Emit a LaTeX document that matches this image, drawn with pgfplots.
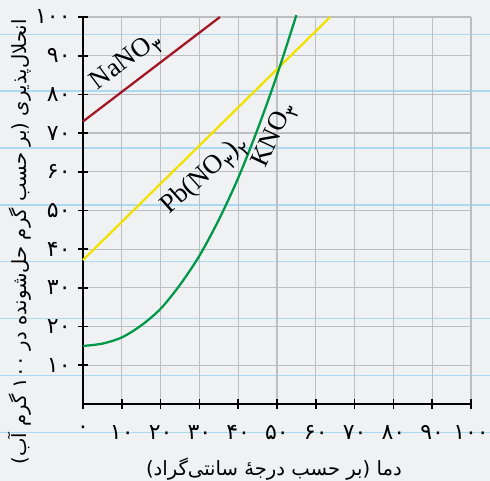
\documentclass[border=0pt]{standalone}
\usepackage{fontspec}
\setmainfont{Liberation Serif}
\newfontfamily\arabicfont[Script=Arabic]{DejaVu Sans}
\TeXXeTstate=1
\usepackage{pgfplots}
\pgfplotsset{compat=1.18}

\definecolor{bg}{RGB}{240,241,243}
\definecolor{ruled}{RGB}{170,218,242}
\definecolor{gridc}{RGB}{188,190,193}
\definecolor{nared}{RGB}{163,22,38}
\definecolor{pbyel}{RGB}{240,226,0}
\definecolor{kgreen}{RGB}{0,152,72}

\newcommand\sub[1]{\raisebox{-0.3em}{\arabicfont\fontsize{14}{14}\selectfont #1}}

\begin{document}
\begin{tikzpicture}
% page background and ruled lines
\fill[bg] (-62.25pt,-57.75pt) rectangle (305.25pt,303pt);
\useasboundingbox (-62.25pt,-57.75pt) rectangle (305.25pt,303pt);
\foreach \k in {0,...,7}{
  \pgfmathsetmacro\yy{277.275-42.645*\k}
  \draw[ruled, line width=1.1pt] (-62.25pt,\yy pt) -- (305.25pt,\yy pt);
}
\begin{axis}[
  at={(0,0)}, anchor=south west,
  scale only axis, width=291pt, height=290.25pt,
  xmin=0, xmax=100, ymin=0, ymax=100,
  axis lines=left,
  axis line style={-, line width=1.8pt, black},
  xtick={0,10,...,100},
  xticklabels={۰,۱۰,۲۰,۳۰,۴۰,۵۰,۶۰,۷۰,۸۰,۹۰,۱۰۰},
  ytick={10,20,...,100},
  yticklabels={۱۰,۲۰,۳۰,۴۰,۵۰,۶۰,۷۰,۸۰,۹۰,۱۰۰},
  grid=major,
  major grid style={gridc, line width=0.9pt},
  tick align=center,
  major tick length=7.5pt,
  every tick/.style={black, line width=1.3pt},
  ticklabel style={font=\arabicfont\fontsize{16.5}{18}\selectfont},
  xticklabel style={yshift=-9pt},
  yticklabel style={xshift=-2pt},
  clip=false,
]
\addplot[nared, line width=1.7pt] coordinates {(0,73) (35.3,100)};
\addplot[pbyel, line width=1.7pt] coordinates {(0,37.2) (63.7,100)};
\addplot[kgreen, line width=1.7pt, smooth] coordinates {
  (0,15) (5,15.6) (10,17.2) (15,20.3) (20,24.6) (25,30.8) (30,38.3)
  (35,47.6) (40,58.4) (45,71) (50,85) (55,100.5)
};

\node[rotate=37, font=\fontsize{20}{24}\selectfont] at (axis cs:11.3,88.2) {NaNO\sub{۳}};
\node[rotate=42, font=\fontsize{20}{24}\selectfont] at (axis cs:31.5,58.9) {Pb(NO\sub{۳})\sub{۲}};
\node[rotate=65, font=\fontsize{20}{24}\selectfont] at (axis cs:49.5,69.3) {KNO\sub{۳}};

\node[rotate=90, font=\arabicfont\fontsize{14.7}{16}\selectfont] at (axis cs:-16.2,41.9)
  {\beginR انحلال‌پذیری (بر حسب گرم حل‌شونده در \beginL ۱۰۰\endL{} گرم آب)\endR};
\node[font=\arabicfont\fontsize{14.7}{16}\selectfont] at (axis cs:49.2,-16.8)
  {\beginR دما (بر حسب درجهٔ سانتی‌گراد)\endR};
\end{axis}
\end{tikzpicture}
\end{document}
